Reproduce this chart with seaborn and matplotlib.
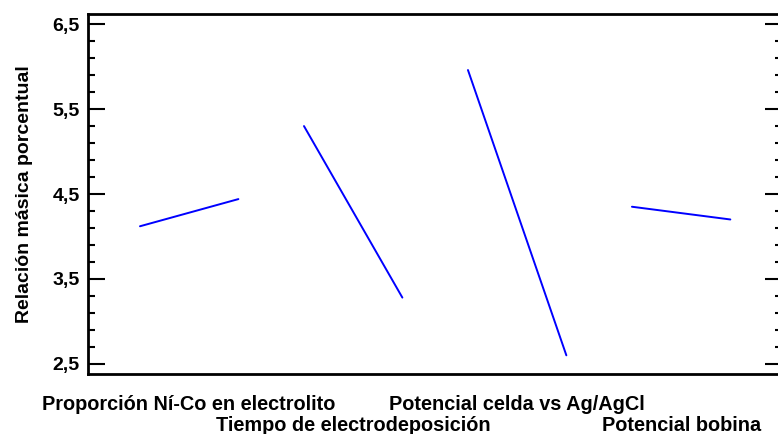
import matplotlib
matplotlib.use("Agg")
import matplotlib.pyplot as plt
from matplotlib.ticker import MultipleLocator, FuncFormatter
import seaborn as sns
import pandas as pd

# Main effects: mean response at the low and high level of each factor
factors = [
    "Proporción Ní-Co en electrolito",
    "Tiempo de electrodeposición",
    "Potencial celda vs Ag/AgCl",
    "Potencial bobina",
]
low_values = [4.12, 5.30, 5.96, 4.35]
high_values = [4.44, 3.28, 2.60, 4.20]
y_label = "Relación másica porcentual"

span = 0.6  # horizontal extent of each factor's segment
rows = []
for i, (f, lo, hi) in enumerate(zip(factors, low_values, high_values)):
    rows.append({"factor": f, "x": i, "y": lo})
    rows.append({"factor": f, "x": i + span, "y": hi})
df = pd.DataFrame(rows)

sns.set_style("white")
plt.rcParams["font.family"] = ["Liberation Sans", "DejaVu Sans"]
plt.rcParams["font.weight"] = "bold"
plt.rcParams["text.color"] = "black"
plt.rcParams["axes.labelcolor"] = "black"

fig = plt.figure(figsize=(7.78, 4.34), dpi=100)
ax = fig.add_axes([88 / 778, 1 - 374 / 434, 694 / 778, 360 / 434])

sns.lineplot(data=df, x="x", y="y", units="factor", estimator=None,
             color="#0000ff", linewidth=1.4, ax=ax, legend=False)

ax.set_xlim(-0.317, 3.915)
ax.set_ylim(2.38, 6.62)
ax.yaxis.set_major_locator(MultipleLocator(1.0, offset=0.5))
ax.yaxis.set_minor_locator(MultipleLocator(0.2, offset=0.1))
ax.yaxis.set_major_formatter(FuncFormatter(lambda v, p: f"{v:.1f}".replace(".", ",")))
ax.tick_params(axis="y", which="both", direction="in", left=True, right=True,
               width=1.5, colors="black", labelsize=14, pad=6)
ax.tick_params(axis="y", which="major", length=12)
ax.tick_params(axis="y", which="minor", length=5)
ax.set_xticks([])
ax.set_xlabel("")
ax.set_ylabel(y_label, fontsize=14, fontweight="bold", labelpad=14, color="black")

for sp in ax.spines.values():
    sp.set_visible(True)
    sp.set_color("black")
    sp.set_linewidth(2)

# Factor names below the axis, alternating between two rows
for i, f in enumerate(factors):
    yrow = -0.085 if i % 2 == 0 else -0.143
    ax.text(i + span / 2, yrow, f, transform=ax.get_xaxis_transform(),
            ha="center", va="center", fontsize=14.3, fontweight="bold",
            color="black")

fig.savefig("out.png", dpi=100)
